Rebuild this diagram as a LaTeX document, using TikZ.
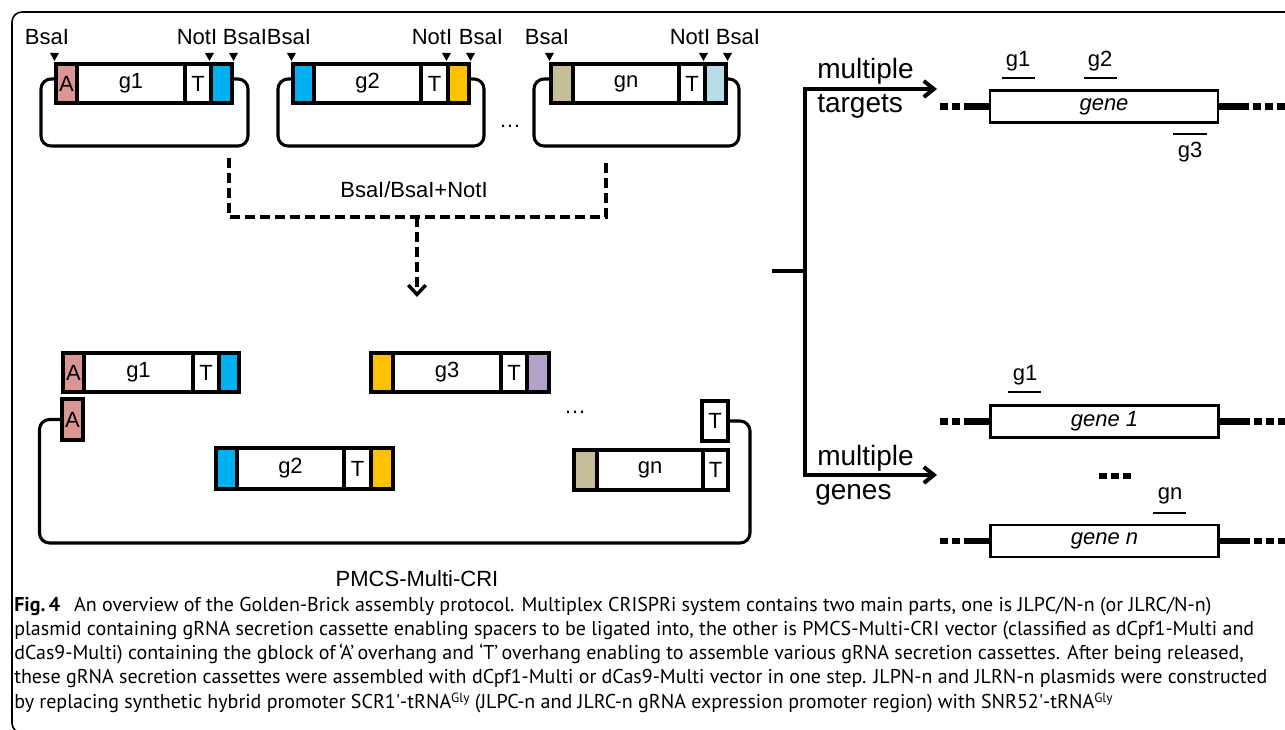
\documentclass[tikz,border=0pt]{standalone}
\usepackage{fontspec}
\setmainfont{Liberation Sans}
\newfontfamily\capfont{PT Sans}
\usetikzlibrary{arrows.meta,calc}

\definecolor{ovA}{HTML}{D99694}
\definecolor{ovBlue}{HTML}{00B0F0}
\definecolor{ovYellow}{HTML}{FFC000}
\definecolor{ovKhaki}{HTML}{C4BD97}
\definecolor{ovLight}{HTML}{B7DEE8}
\definecolor{ovPurple}{HTML}{B3A2C7}

\tikzset{
  part/.style={draw, line width=2.3pt, inner sep=0pt, font=\fontsize{16.5}{18}\selectfont},
  backbone/.style={line width=2.3pt, rounded corners=7.5pt},
  lbl/.style={font=\fontsize{16.5}{18}\selectfont, inner sep=0pt},
  biglbl/.style={font=\fontsize{21}{24}\selectfont, inner sep=0pt},
  digest/.style={line width=2.6pt, dash pattern=on 7.5pt off 3.75pt},
  branch/.style={line width=3pt},
  barb/.tip={Straight Barb[length=7.5pt,width=12pt]},
  smallbarb/.tip={Straight Barb[length=7pt,width=13pt]},
  genebox/.style={draw, line width=2.2pt, fill=white, inner sep=0pt,
    minimum width=171pt, minimum height=24pt, font=\fontsize{16.5}{18}\selectfont\itshape},
  flank/.style={line width=5.2pt},
  flankdots/.style={line width=5.2pt, dash pattern=on 6pt off 3pt},
  guide/.style={line width=2.2pt},
  captext/.style={font=\capfont\fontsize{15}{17}\selectfont, inner sep=0pt, anchor=base west},
  pics/cut/.style={code={\fill (-4.5,-8) -- (4.5,-8) -- (0,0) -- cycle;}},
}

% one coloured or labelled segment of a cassette: name, x1, x2, y1, y2, fill, text
\newcommand\cpart[7]{%
  \node[part, fill=#6, minimum width={(#3-#2)*0.75pt}, minimum height={(#5-#4)*0.75pt}]
    (#1) at ({(#2+#3)/2},{(#4+#5)/2}) {#7};}
% small raised "Gly" of the tRNA names
\newcommand\supgly{\raisebox{4pt}{\fontsize{10}{10}\selectfont Gly}}
% prime mark in promoter names
\newcommand\prm{\textquotesingle}

\begin{document}
\begin{tikzpicture}[x=0.75pt,y=-0.75pt]
\useasboundingbox (0,0) rectangle (1285,730);

% outer frame
\draw[line width=1.2pt, rounded corners=7.5pt] (1300,12) -- (12,12) -- (12,733) -- (80,733);

% ---------- donor plasmids ----------
\cpart{p1A}{56}{77}{64}{103}{ovA}{A}
\cpart{p1g}{77}{185}{64}{103}{white}{g1}
\cpart{p1T}{185}{211}{64}{103}{white}{T}
\cpart{p1B}{211}{232}{64}{103}{ovBlue}{}
\draw[backbone] ($(p1A.west)+(0,-4.5)$) -- (41,79) -- (41,146) -- (248,146) -- (248,79) -- ($(p1B.east)+(0,-4.5)$);

\cpart{p2B}{293}{314}{64}{103}{ovBlue}{}
\cpart{p2g}{314}{421}{64}{103}{white}{g2}
\cpart{p2T}{421}{448}{64}{103}{white}{T}
\cpart{p2Y}{448}{469}{64}{103}{ovYellow}{}
\draw[backbone] ($(p2B.west)+(0,-4.5)$) -- (278,79) -- (278,146) -- (484,146) -- (484,79) -- ($(p2Y.east)+(0,-4.5)$);

\cpart{pnK}{551}{573}{64}{103}{ovKhaki}{}
\cpart{png}{573}{679}{64}{103}{white}{gn}
\cpart{pnT}{679}{705}{64}{103}{white}{T}
\cpart{pnL}{705}{726}{64}{103}{ovLight}{}
\draw[backbone] ($(pnK.west)+(0,-4.5)$) -- (534,79) -- (534,146) -- (739,146) -- (739,79) -- ($(pnL.east)+(0,-4.5)$);

% cutting sites
\foreach \a in {p1A.north west,p1B.north west,p1B.north east,
                p2B.north west,p2Y.north west,p2Y.north east,
                pnK.north west,pnL.north west,pnL.north east}
  \pic at ($(\a)+(0,-1.5)$) {cut};

\node[lbl, anchor=base] (s1) at (47,45) {BsaI};
\node[lbl, anchor=base] (s2) at (197,45) {NotI};
\node[lbl, anchor=base] (s3) at (245,45) {BsaI};
\node[lbl, anchor=base] (s4) at (289,45) {BsaI};
\node[lbl, anchor=base] (s5) at (432,45) {NotI};
\node[lbl, anchor=base] (s6) at (481,45) {BsaI};
\node[lbl, anchor=base] (s7) at (547,45) {BsaI};
\node[lbl, anchor=base] (s8) at (690,45) {NotI};
\node[lbl, anchor=base] (s9) at (738,45) {BsaI};

\node[lbl] (dots1) at (510,126) {…};

% ---------- digestion ----------
\coordinate (da) at (229,158);
\coordinate (db) at (606,158);
\coordinate (dj) at (417,217);
\coordinate (dt) at (417,297);
\draw[digest] (da) |- (dj) -| (db);
\draw[digest, -smallbarb] (dj) -- (dt);
\node[lbl, anchor=base] (enz) at (414,198) {BsaI/BsaI+NotI};

% ---------- assembly vector ----------
\cpart{bA}{63}{84}{353}{392}{ovA}{A}
\cpart{bg1}{84}{193}{353}{392}{white}{g1}
\cpart{bT1}{193}{219}{353}{392}{white}{T}
\cpart{bB1}{219}{239}{353}{392}{ovBlue}{}

\cpart{aA}{62}{83}{399}{440}{ovA}{A}

\cpart{c2B}{216}{237}{448}{489}{ovBlue}{}
\cpart{c2g}{237}{344}{448}{489}{white}{g2}
\cpart{c2T}{344}{371}{448}{489}{white}{T}
\cpart{c2Y}{371}{393}{448}{489}{ovYellow}{}

\cpart{c3Y}{371}{393}{353}{392}{ovYellow}{}
\cpart{c3g}{393}{501}{353}{392}{white}{g3}
\cpart{c3T}{501}{527}{353}{392}{white}{T}
\cpart{c3P}{527}{549}{353}{392}{ovPurple}{}

\cpart{tT}{702}{728}{401}{441}{white}{T}

\cpart{cnK}{574}{597}{450}{490}{ovKhaki}{}
\cpart{cng}{597}{703}{450}{490}{white}{gn}
\cpart{cnT}{703}{728}{450}{490}{white}{T}

\draw[backbone] (aA.west) -- ++(-21,0) |- (750,543) |- (tT.east);

\node[lbl] (dots2) at (575,412) {…};
\node[lbl, anchor=base] (vec) at (417,586) {PMCS-Multi-CRI};

% ---------- applications ----------
\coordinate (stub) at (772,271);
\coordinate (ta) at (937,89);
\coordinate (ga) at (937,475);
\draw[branch, barb-barb] (ta) -- (805,89) -- (805,475) -- (ga);
\draw[branch] (stub) -- (805,271);

\node[biglbl, anchor=base west] (m1) at (817,79) {multiple};
\node[biglbl, anchor=base west] (m2) at (817,113) {targets};
\node[biglbl, anchor=base west] (m3) at (817,466) {multiple};
\node[biglbl, anchor=base west] (m4) at (815,500) {genes};

% target gene
\node[genebox] (gT) at (1104,106.5) {gene};
\draw[flank] (gT.west) -- ++(-17,0) coordinate (gTl);
\draw[flankdots] (gTl) -- ++(-32,0);
\draw[flank] (gT.east) -- ++(30,0) coordinate (gTr);
\draw[flankdots] ($(gTr)+(4,0)$) -- ++(40,0);
\draw[guide] (1002,78) -- (1035,78);
\draw[guide] (1084,78) -- (1117,78);
\draw[guide] (1173,134) -- (1207,134);
\node[lbl] (t1) at (1018,61) {g1};
\node[lbl] (t2) at (1100,61) {g2};
\node[lbl] (t3) at (1190,152) {g3};

% gene 1
\node[genebox] (g1) at (1104.5,421.5) {gene 1};
\draw[flank] (g1.west) -- ++(-17,0) coordinate (g1l);
\draw[flankdots] (g1l) -- ++(-32,0);
\draw[flank] (g1.east) -- ++(30,0) coordinate (g1r);
\draw[flankdots] ($(g1r)+(4,0)$) -- ++(40,0);
\draw[guide] (1008,392) -- (1041,392);
\node[lbl] (u1) at (1025,375) {g1};

\draw[flankdots] (1099,476) -- (1131,476);

% gene n
\node[genebox] (gN) at (1104.5,541) {gene n};
\draw[flank] (gN.west) -- ++(-17,0) coordinate (gNl);
\draw[flankdots] (gNl) -- ++(-32,0);
\draw[flank] (gN.east) -- ++(30,0) coordinate (gNr);
\draw[flankdots] ($(gNr)+(4,0)$) -- ++(40,0);
\draw[guide] (1153,513) -- (1186,513);
\node[lbl] (un) at (1170,496) {gn};

% ---------- caption ----------
\node[captext] (cap1) at (14,611) {\textbf{Fig.\,4}\hspace{0.7em}An overview of the Golden-Brick assembly protocol. Multiplex CRISPRi system contains two main parts, one is JLPC/N-n (or JLRC/N-n)};
\node[captext] (cap2) at (14,635.3) {plasmid containing gRNA secretion cassette enabling spacers to be ligated into, the other is PMCS-Multi-CRI vector (classified as dCpf1-Multi and};
\node[captext] (cap3) at (14,659.6) {dCas9-Multi) containing the gblock of\,‘A’\,overhang and ‘T’\,overhang enabling to assemble various gRNA secretion cassettes. After being released,};
\node[captext] (cap4) at (14,683.9) {these gRNA secretion cassettes were assembled with dCpf1-Multi or dCas9-Multi vector in one step. JLPN-n and JLRN-n plasmids were constructed};
\node[captext] (cap5) at (14,708.2) {by replacing synthetic hybrid promoter SCR1\prm-tRNA\supgly{} (JLPC-n and JLRC-n gRNA expression promoter region) with SNR52\prm-tRNA\supgly};
\end{tikzpicture}
\end{document}
